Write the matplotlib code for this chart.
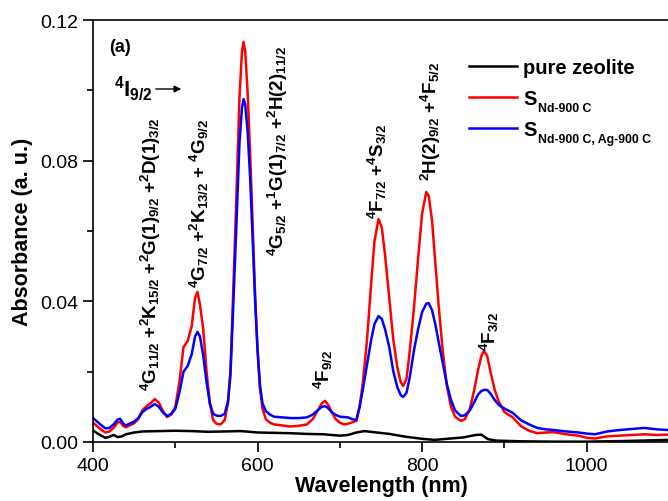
import matplotlib
matplotlib.use("Agg")
import matplotlib.pyplot as plt

plt.rcParams['font.family'] = ['Liberation Sans', 'DejaVu Sans']
plt.rcParams['mathtext.fontset'] = 'custom'
plt.rcParams['mathtext.rm'] = 'Liberation Sans:bold'
plt.rcParams['mathtext.it'] = 'Liberation Sans:bold'
plt.rcParams['mathtext.bf'] = 'Liberation Sans:bold'
plt.rcParams['mathtext.sf'] = 'Liberation Sans:bold'
plt.rcParams['mathtext.default'] = 'rm'

# ---- data ----
wavelength = [400, 405, 410, 415, 420, 425, 430, 433, 437, 440, 445, 450, 455, 460, 465,
              470, 475, 480, 485, 490, 495, 500, 505, 510, 515, 520, 524, 527, 530, 534,
              538, 542, 546, 550, 555, 560, 564, 567, 570, 574, 578, 581, 583, 585, 588,
              591, 594, 597, 600, 603, 606, 610, 615, 620, 630, 640, 650, 660, 667, 672,
              678, 682, 686, 690, 695, 700, 705, 710, 715, 720, 724, 728, 733, 738, 742,
              747, 751, 755, 760, 765, 770, 774, 777, 781, 785, 790, 795, 800, 805, 808,
              812, 816, 820, 825, 830, 835, 840, 847, 852, 858, 863, 868, 872, 875, 879,
              883, 888, 893, 900, 910, 920, 930, 940, 950, 960, 975, 990, 1000, 1010, 1025,
              1040, 1055, 1070, 1085, 1100]

s_nd = [.0055, .0045, .0035, .0027, .0030, .0040, .0056, .0057, .0045, .0042, .0048, .0053, .0065, .0090, .0102,
        .0110, .0122, .0112, .0088, .0071, .0078, .0100, .0170, .0270, .0287, .0330, .0410, .0427, .0390, .0320,
        .0200, .0110, .0062, .0052, .0050, .0062, .0110, .0200, .0400, .0680, .0980, .1110, .1138, .1110, .0990,
        .0820, .0620, .0420, .0260, .0150, .0095, .0065, .0055, .0050, .0047, .0044, .0046, .0050, .0065, .0085,
        .0110, .0117, .0105, .0085, .0065, .0055, .0050, .0052, .0056, .0060, .0100, .0170, .0290, .0450, .0570,
        .0634, .0610, .0530, .0410, .0290, .0210, .0170, .0159, .0180, .0260, .0380, .0520, .0650, .0711, .0700,
        .0630, .0510, .0390, .0260, .0160, .0100, .0072, .0060, .0065, .0095, .0145, .0205, .0245, .0259, .0245,
        .0200, .0150, .0115, .0085, .0070, .0045, .0032, .0025, .0027, .0028, .0022, .0018, .0012, .0010, .0016,
        .0018, .0020, .0022, .0020, .0021]

s_nd_ag = [.0068, .0058, .0048, .0039, .0040, .0050, .0064, .0066, .0052, .0047, .0053, .0058, .0068, .0085, .0094,
           .0100, .0108, .0100, .0084, .0074, .0080, .0094, .0140, .0200, .0216, .0250, .0300, .0313, .0300, .0245,
           .0170, .0110, .0080, .0075, .0074, .0080, .0115, .0190, .0360, .0600, .0850, .0950, .0975, .0960, .0880,
           .0750, .0580, .0400, .0260, .0160, .0110, .0088, .0078, .0072, .0070, .0068, .0068, .0070, .0078, .0088,
           .0100, .0102, .0096, .0085, .0077, .0072, .0071, .0070, .0065, .0062, .0100, .0150, .0220, .0290, .0335,
           .0358, .0350, .0320, .0270, .0200, .0155, .0133, .0128, .0140, .0185, .0260, .0320, .0370, .0393, .0395,
           .0375, .0335, .0285, .0225, .0165, .0120, .0090, .0074, .0076, .0090, .0112, .0135, .0145, .0148, .0148,
           .0138, .0120, .0106, .0095, .0083, .0062, .0050, .0040, .0036, .0034, .0030, .0027, .0024, .0022, .0030,
           .0034, .0037, .0040, .0036, .0034]

wavelength_zeolite = [400, 405, 410, 415, 420, 425, 430, 435, 440, 450, 460, 480, 500, 520, 540, 560,
                      580, 600, 620, 640, 660, 680, 700, 710, 720, 730, 745, 760, 780, 800, 815, 830,
                      850, 865, 872, 880, 890, 920, 960, 1000, 1050, 1100]
zeolite = [.0033, .0025, .0018, .0012, .0015, .0020, .0014, .0016, .0022, .0027, .0030, .0031, .0032, .0031,
           .0029, .0030, .0031, .0027, .0026, .0025, .0023, .0022, .0018, .0020, .0027, .0031, .0027, .0023,
           .0015, .0009, .0006, .0009, .0013, .0020, .0021, .0008, .0004, .0002, .0001, .0001, .0003, .0006]

labels = ['pure zeolite', 'S', 'S']
label_subscripts = [None, 'Nd-900 C', 'Nd-900 C, Ag-900 C']
colors = ['black', '#ff0000', '#0000ff']

W, H = 668, 502
fig = plt.figure(figsize=(W / 100, H / 100), dpi=100)
ax = fig.add_axes([93 / W, (H - 443) / H, (669 - 93) / W, (443 - 21) / H])

ax.plot(wavelength_zeolite, zeolite, color=colors[0], lw=1.8, label=labels[0])
ax.plot(wavelength, s_nd, color=colors[1], lw=1.8, label=labels[1])
ax.plot(wavelength, s_nd_ag, color=colors[2], lw=1.8, label=labels[2])

ax.set_xlim(400, 1100)
ax.set_ylim(0, 0.12)
ax.set_xticks([400, 600, 800, 1000])
ax.set_xticks([500, 700, 900, 1100], minor=True)
ax.set_yticks([0, 0.04, 0.08, 0.12])
ax.set_yticklabels(['0.00', '0.04', '0.08', '0.12'])
ax.set_yticks([0.02, 0.06, 0.10], minor=True)
ax.tick_params(which='major', direction='out', length=7, width=1.2, labelsize=14)
ax.tick_params(which='minor', direction='out', length=4, width=1.2)
for s in ax.spines.values():
    s.set_linewidth(1.2)

ax.set_xlabel('Wavelength (nm)', fontsize=15.5, fontweight='bold', labelpad=1)
ax.set_ylabel('Absorbance (a. u.)', fontsize=15.5, fontweight='bold', labelpad=5)

def px2data(px, py):
    return 400 + (px - 93) * 200 / 164.5, (443 - py) * 0.12 / 422

tfs = 13.5
annots = [
    (151, 391, r'$^4$G$_{11/2}$ +$^2$K$_{15/2}$ +$^2$G(1)$_{9/2}$ +$^2$D(1)$_{3/2}$'),
    (199, 288, r'$^4$G$_{7/2}$ +$^2$K$_{13/2}$ + $^4$G$_{9/2}$'),
    (278, 256, r'$^4$G$_{5/2}$ +$^1$G(1)$_{7/2}$ +$^2$H(2)$_{11/2}$'),
    (323, 389, r'$^4$F$_{9/2}$'),
    (377, 219, r'$^4$F$_{7/2}$ +$^4$S$_{3/2}$'),
    (431, 181, r'$^2$H(2)$_{9/2}$ +$^4$F$_{5/2}$'),
    (489, 351, r'$^4$F$_{3/2}$'),
]
for px, py, txt in annots:
    x, y = px2data(px, py)
    ax.text(x, y, txt, rotation=90, ha='center', va='bottom', fontsize=tfs,
            fontweight='bold')

ax.text(109 / W, 1 - 47 / H, '(a)', transform=fig.transFigure, fontsize=13,
        fontweight='bold', va='center', ha='left')
ax.text(114 / W, 1 - 97 / H, r'$^4$I$_{9/2}$', transform=fig.transFigure, fontsize=16,
        fontweight='bold', va='baseline', ha='left')
x0, y0 = px2data(153, 90)
x1, _ = px2data(184, 90)
ax.annotate('', xy=(x1, y0), xytext=(x0, y0),
            arrowprops=dict(arrowstyle='-|>', color='black', lw=1, mutation_scale=10))

leg = ax.legend(loc='upper left', bbox_to_anchor=(455 / W, 1 - 45 / H),
                bbox_transform=fig.transFigure, frameon=False, fontsize=14.5,
                handlelength=2.4, handletextpad=0.3, labelspacing=0.6,
                borderpad=0.2)
for t in leg.get_texts():
    t.set_fontweight('bold')

fig.canvas.draw()
renderer = fig.canvas.get_renderer()
for t, sub in zip(leg.get_texts(), label_subscripts):
    if sub is None:
        continue
    bb = t.get_window_extent(renderer)
    fig.text((bb.x1 + 1) / W, (bb.y0 - 3) / H, sub, fontsize=8.8,
             fontweight='bold', ha='left', va='baseline')

fig.savefig('out.png', dpi=100)
